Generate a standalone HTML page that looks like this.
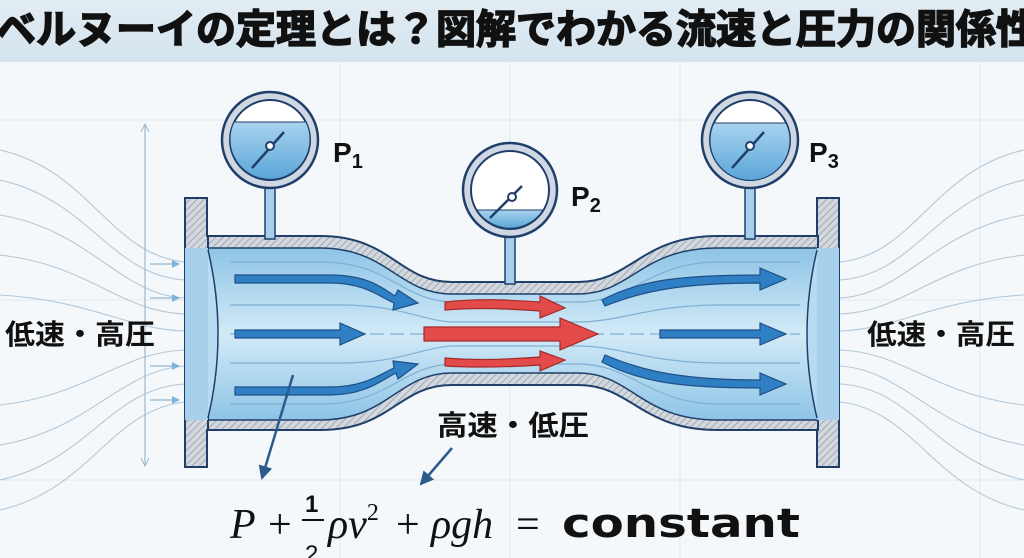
<!DOCTYPE html>
<html><head><meta charset="utf-8"><style>
html,body{margin:0;padding:0;width:1024px;height:558px;overflow:hidden;background:#f3f7fa}
svg{display:block}
.jp{font-family:"Liberation Sans","Noto Sans CJK JP",sans-serif;font-weight:bold}
</style></head><body>
<svg width="1024" height="558" viewBox="0 0 1024 558" xmlns="http://www.w3.org/2000/svg">
<defs>
<linearGradient id="hdr" x1="0" y1="0" x2="0" y2="1"><stop offset="0" stop-color="#e2ecf3"/><stop offset="1" stop-color="#d4e3ee"/></linearGradient>
<linearGradient id="fl" x1="0" y1="0" x2="0" y2="1"><stop offset="0" stop-color="#8ec4e6"/><stop offset="0.5" stop-color="#d2eaf7"/><stop offset="1" stop-color="#8ec4e6"/></linearGradient>
<linearGradient id="gw" x1="0" y1="0" x2="0" y2="1"><stop offset="0" stop-color="#a9d3ef"/><stop offset="1" stop-color="#5aa6d8"/></linearGradient>
<pattern id="hatch" width="5" height="5" patternUnits="userSpaceOnUse" patternTransform="rotate(45)"><rect width="5" height="5" fill="#d3d8de"/><line x1="0" y1="0" x2="0" y2="5" stroke="#8c96a2" stroke-width="1.4"/></pattern>
<marker id="ah" markerWidth="8" markerHeight="8" refX="6" refY="4" orient="auto" markerUnits="userSpaceOnUse"><path d="M0,0 L8,4 L0,8z" fill="#7fb3d8"/></marker>
<marker id="dk" markerWidth="16" markerHeight="16" refX="12" refY="8" orient="auto" markerUnits="userSpaceOnUse"><path d="M0,1 L14,8 L0,15z" fill="#2b5a8c"/></marker>
</defs>
<rect width="1024" height="62" fill="url(#hdr)"/>
<rect y="62" width="1024" height="496" fill="#f4f8fb"/>
<g stroke="#e0e7ee" stroke-width="1">
<line x1="0" y1="120" x2="1024" y2="120"/><line x1="0" y1="300" x2="1024" y2="300"/><line x1="0" y1="480" x2="1024" y2="480"/>
<line x1="340" y1="62" x2="340" y2="558"/><line x1="510" y1="62" x2="510" y2="558"/><line x1="680" y1="62" x2="680" y2="558"/><line x1="980" y1="62" x2="980" y2="558"/>
</g>
<text x="-4" y="43" class="jp" font-size="40" fill="#111" stroke="#111" stroke-width="1.6" textLength="1040" lengthAdjust="spacingAndGlyphs">ベルヌーイの定理とは？図解でわかる流速と圧力の関係性</text>
<!-- outside streamlines -->
<g fill="none" stroke="#b3c8d8" stroke-width="1.1">
<path d="M0,150 C90,170 110,255 185,262"/><path d="M0,180 C90,200 110,275 185,280"/><path d="M0,215 C90,230 120,295 185,298"/><path d="M0,255 C90,265 120,312 185,314"/><path d="M0,295 C90,300 130,330 185,331"/>
<path d="M0,510 C90,490 110,410 185,402"/><path d="M0,480 C90,460 110,388 185,384"/><path d="M0,445 C90,430 120,370 185,366"/><path d="M0,405 C90,395 120,352 185,350"/>
<path d="M1024,150 C934,170 914,255 840,262"/><path d="M1024,180 C934,200 914,275 840,280"/><path d="M1024,215 C934,230 904,295 840,298"/><path d="M1024,255 C934,265 904,312 840,314"/><path d="M1024,295 C934,300 894,330 840,331"/>
<path d="M1024,510 C934,490 914,410 840,402"/><path d="M1024,480 C934,460 914,388 840,384"/><path d="M1024,445 C934,430 904,370 840,366"/><path d="M1024,405 C934,395 904,352 840,350"/>
</g>
<g stroke="#8fb4cf" stroke-width="1.2" marker-end="url(#ah)">
<line x1="150" y1="264" x2="178" y2="264"/><line x1="150" y1="298" x2="178" y2="298"/><line x1="150" y1="366" x2="178" y2="366"/><line x1="150" y1="400" x2="178" y2="400"/>
</g>
<line x1="145" y1="125" x2="145" y2="465" stroke="#9ab8cf" stroke-width="1.2"/>
<path d="M141,132 L145,124 L149,132" fill="none" stroke="#9ab8cf"/><path d="M141,458 L145,466 L149,458" fill="none" stroke="#9ab8cf"/>
<!-- pipe wall -->
<path d="M208,236 H320 C392,236 398,282 452,282 H578 C632,282 640,236 718,236 H818 V430 H718 C640,430 632,385 578,385 H452 C398,385 392,430 320,430 H208 Z" fill="url(#hatch)" stroke="#1f3f6a" stroke-width="2"/>
<path d="M208,248 H320 C388,248 398,294 452,294 H578 C632,294 640,248 718,248 H818 V420 H718 C640,420 632,373 578,373 H452 C398,373 388,420 320,420 H208 Z" fill="url(#fl)" stroke="#1f3f6a" stroke-width="1.5"/>
<!-- flanges -->
<path d="M185,198 H207 V236 H208 V430 H207 V467 H185 Z" fill="url(#hatch)" stroke="#1f3f6a" stroke-width="2"/>
<path d="M817,198 H839 V467 H817 V430 H818 V236 H817 Z" fill="url(#hatch)" stroke="#1f3f6a" stroke-width="2"/>
<rect x="185" y="248" width="23" height="172" fill="#a6d0ec"/>
<rect x="817" y="248" width="22" height="172" fill="#a6d0ec"/>
<path d="M208,250 Q228,334 208,418" fill="#b7dcf2" stroke="#1f3f6a" stroke-width="1.5"/>
<path d="M817,250 Q797,334 817,418" fill="#b7dcf2" stroke="#1f3f6a" stroke-width="1.5"/>
<!-- inner streamlines -->
<g fill="none" stroke="#7fb0d4" stroke-width="1.2">
<path d="M230,262 H320 C390,262 400,300 452,302 H578 C632,302 650,262 718,262 H800"/>
<path d="M230,305 H340 C400,305 420,320 452,322 H578 C620,322 650,305 718,305 H800"/>
<path d="M230,363 H340 C400,363 420,348 452,346 H578 C620,346 650,363 718,363 H800"/>
<path d="M230,404 H320 C390,404 400,366 452,364 H578 C632,364 650,404 718,404 H800"/>
<line x1="230" y1="334" x2="800" y2="334" stroke-dasharray="14 6"/>
</g>
<!-- blue arrows -->
<g fill="#2f7fc4" stroke="#1f4f86" stroke-width="1.2">
<path d="M235,275 H330 C370,275 385,290 395,296 L398,290 L418,303 L393,310 L394,303 C380,297 365,283 330,283 H235 Z"/>
<path d="M235,330 H340 V323 L365,334 L340,345 V338 H235 Z"/>
<path d="M235,387 H330 C365,387 380,374 394,368 L393,361 L418,364 L398,379 L396,373 C382,380 365,395 330,395 H235 Z"/>
<path d="M602,300 C640,280 680,275 760,275 V268 L786,279 L760,290 V283 C685,283 645,290 605,306 Z"/>
<path d="M660,330 H760 V323 L786,334 L760,345 V338 H660 Z"/>
<path d="M602,362 L605,355 C645,372 685,380 760,380 V373 L786,384 L760,395 V388 C680,388 640,382 602,362 Z"/>
</g>
<g fill="#e34a4a" stroke="#a52a2a" stroke-width="1.2">
<path d="M445,302 C480,298 510,300 540,302 V296 L565,308 L540,318 V311 C510,309 480,307 445,310 Z"/>
<path d="M424,327 H560 V318 L598,334 L560,350 V341 H424 Z"/>
<path d="M445,358 C480,361 510,359 540,357 V351 L565,360 L540,371 V365 C510,367 480,368 445,366 Z"/>
</g>
<!-- gauges -->
<g stroke="#1f3f6a">
<rect x="265" y="185" width="10" height="54" fill="#a6d0ec" stroke-width="1.5"/>
<rect x="505" y="232" width="10" height="52" fill="#a6d0ec" stroke-width="1.5"/>
<rect x="745" y="185" width="10" height="54" fill="#a6d0ec" stroke-width="1.5"/>
</g>
<g>
<circle cx="270" cy="140" r="48" fill="#cfd8e2" stroke="#1f3f6a" stroke-width="2.5"/>
<circle cx="270" cy="140" r="40" fill="#fff" stroke="#1f3f6a" stroke-width="2"/>
<path d="M234,122 H306 A40,40 0 1 1 234,122 Z" fill="url(#gw)" stroke="#1f3f6a" stroke-width="1"/>
<line x1="252" y1="168" x2="284" y2="132" stroke="#1f3f6a" stroke-width="2.5"/>
<circle cx="270" cy="146" r="4" fill="#fff" stroke="#1f3f6a" stroke-width="2"/>
</g>
<g>
<circle cx="750" cy="140" r="48" fill="#cfd8e2" stroke="#1f3f6a" stroke-width="2.5"/>
<circle cx="750" cy="140" r="40" fill="#fff" stroke="#1f3f6a" stroke-width="2"/>
<path d="M714,123 H786 A40,40 0 1 1 714,123 Z" fill="url(#gw)" stroke="#1f3f6a" stroke-width="1"/>
<line x1="732" y1="168" x2="764" y2="132" stroke="#1f3f6a" stroke-width="2.5"/>
<circle cx="750" cy="146" r="4" fill="#fff" stroke="#1f3f6a" stroke-width="2"/>
</g>
<g>
<circle cx="510" cy="190" r="47" fill="#cfd8e2" stroke="#1f3f6a" stroke-width="2.5"/>
<circle cx="510" cy="190" r="39" fill="#fff" stroke="#1f3f6a" stroke-width="2"/>
<path d="M477,210 H543 A39,39 0 0 1 477,210 Z" fill="url(#gw)" stroke="#1f3f6a" stroke-width="1"/>
<line x1="490" y1="218" x2="522" y2="186" stroke="#1f3f6a" stroke-width="2.5"/>
<circle cx="512" cy="197" r="4" fill="#fff" stroke="#1f3f6a" stroke-width="2"/>
</g>
<g class="jp" font-size="28" fill="#111">
<text x="333" y="162">P<tspan font-size="20" dy="6">1</tspan></text>
<text x="571" y="206">P<tspan font-size="20" dy="6">2</tspan></text>
<text x="809" y="162">P<tspan font-size="20" dy="6">3</tspan></text>
</g>
<g class="jp" font-size="28" fill="#111">
<text x="5" y="344" textLength="150" lengthAdjust="spacingAndGlyphs">低速・高圧</text>
<text x="867" y="344" textLength="148" lengthAdjust="spacingAndGlyphs">低速・高圧</text>
<text x="437" y="435" textLength="152" lengthAdjust="spacingAndGlyphs">高速・低圧</text>
</g>
<line x1="293" y1="375" x2="262" y2="478" stroke="#2b5a8c" stroke-width="2.5" marker-end="url(#dk)"/>
<line x1="452" y1="448" x2="421" y2="484" stroke="#2b5a8c" stroke-width="2.5" marker-end="url(#dk)"/>
<g font-family="'Liberation Serif',serif" font-style="italic" font-size="42" fill="#111">
<text x="230" y="538">P</text>
<text x="268" y="538" font-style="normal">+</text>
<text x="305" y="512" font-size="24" font-style="normal" font-weight="bold" font-family="'Liberation Sans',sans-serif">1</text>
<line x1="302" y1="520" x2="324" y2="520" stroke="#111" stroke-width="2"/>
<text x="305" y="562" font-size="24" font-style="normal" font-family="'Liberation Sans',sans-serif">2</text>
<text x="328" y="538">ρv<tspan font-size="24" font-style="normal" dy="-18">2</tspan></text>
<text x="396" y="538" font-style="normal">+</text>
<text x="431" y="538">ρgh</text>
<text x="516" y="538" font-style="normal">=</text>
</g>
<text x="562" y="537" font-family="'DejaVu Sans','Liberation Sans',sans-serif" font-weight="bold" font-size="40" fill="#111" textLength="238" lengthAdjust="spacingAndGlyphs">constant</text>
</svg>
</body></html>
